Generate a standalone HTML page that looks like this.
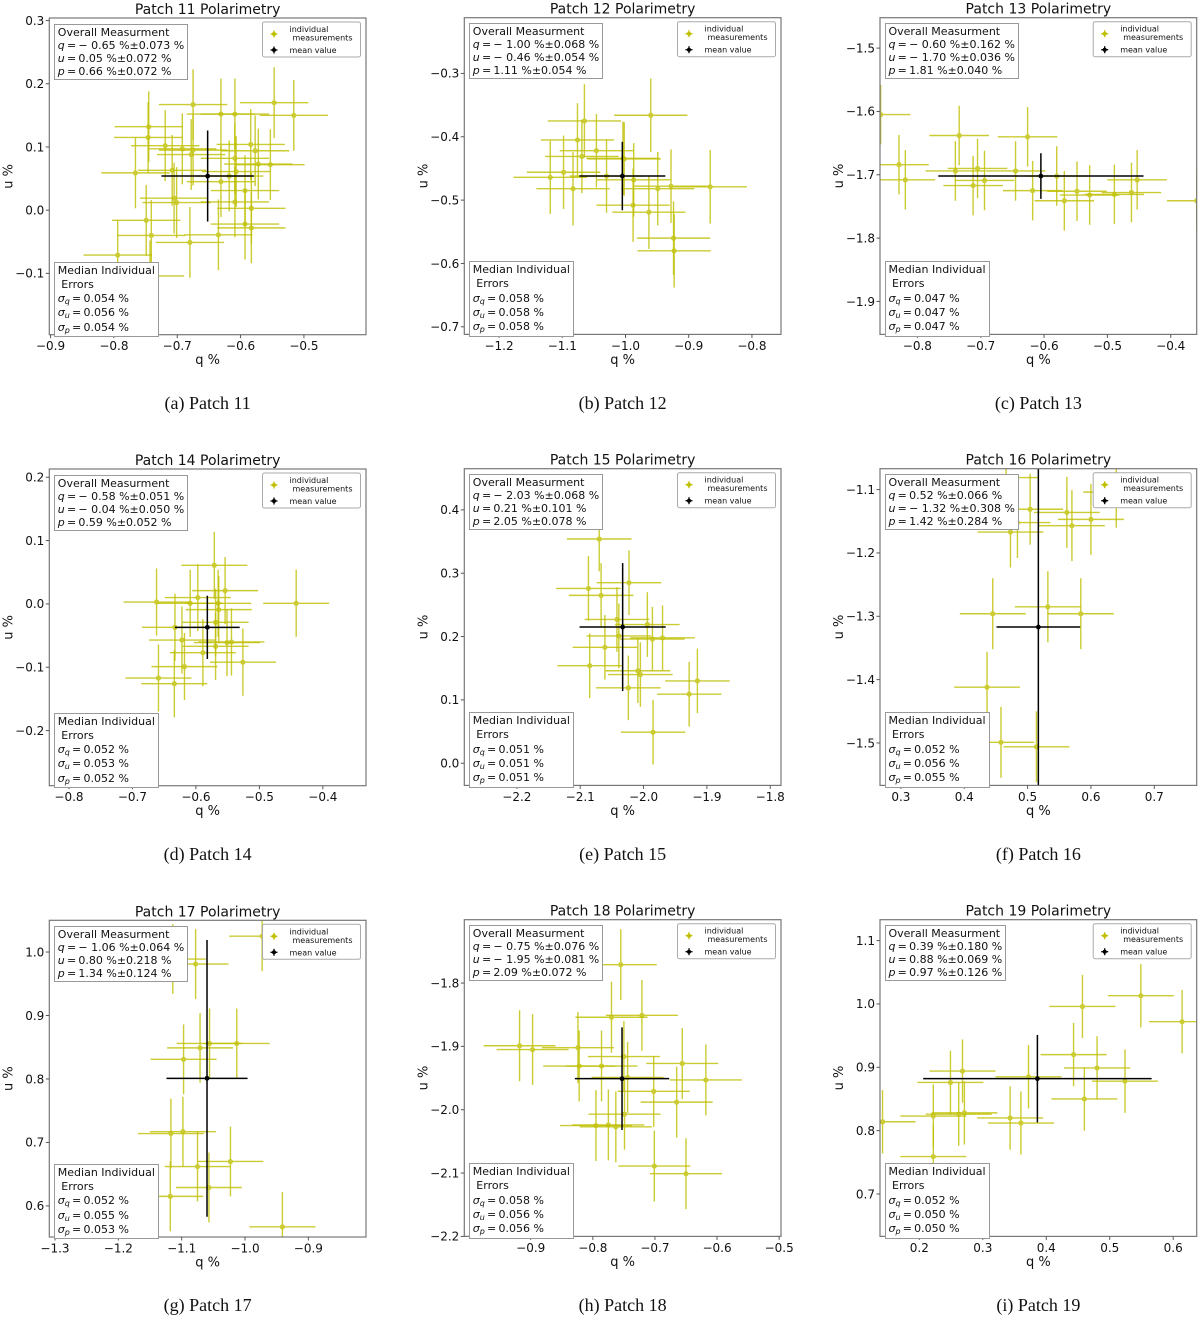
<!DOCTYPE html>
<html><head><meta charset="utf-8">
<style>
html,body{margin:0;padding:0;background:#fff;}
body{width:1200px;height:1320px;position:relative;overflow:hidden;font-family:"DejaVu Sans","Liberation Sans",sans-serif;}
svg{position:absolute;left:0;top:0;font-family:"DejaVu Sans","Liberation Sans",sans-serif;}
.tb{position:absolute;background:#fff;border:1.3px solid #999;padding:1px 3px 1px 3px;font-size:11px;line-height:13px;color:#111;white-space:nowrap;}
.tb sub{font-size:8px;vertical-align:-2px;line-height:0;}
.cap{position:absolute;font-family:"Liberation Serif",serif;font-size:18px;color:#111;width:300px;text-align:center;}
</style></head><body>
<svg id="fig" width="1200" height="1320" viewBox="0 0 1200 1320"></svg>
<script>
const q11=[-0.675,-0.547,-0.516,-0.631,-0.609,-0.745,-0.746,-0.719,-0.692,-0.678,-0.675,-0.584,-0.577,-0.609,-0.572,-0.553,-0.766,-0.708,-0.607,-0.618,-0.631,-0.593,-0.705,-0.701,-0.609,-0.583,-0.749,-0.741,-0.635,-0.680,-0.593,-0.583,-0.794,-0.743];
const u11=[0.167,0.170,0.150,0.152,0.152,0.132,0.115,0.102,0.097,0.088,0.095,0.104,0.094,0.082,0.073,0.072,0.059,0.063,0.061,0.054,0.045,0.031,0.019,0.012,0.013,0.003,-0.016,-0.040,-0.039,-0.051,-0.022,-0.028,-0.071,-0.104];
const q12=[-0.960,-1.065,-1.076,-1.069,-1.046,-1.098,-1.119,-1.083,-1.030,-1.004,-1.002,-0.987,-0.988,-0.963,-0.949,-0.928,-0.866,-0.924,-0.923];
const u12=[-0.366,-0.375,-0.405,-0.431,-0.422,-0.456,-0.464,-0.482,-0.462,-0.434,-0.435,-0.468,-0.508,-0.519,-0.482,-0.478,-0.479,-0.560,-0.580];
const q13=[-0.858,-0.734,-0.626,-0.829,-0.819,-0.740,-0.705,-0.712,-0.694,-0.645,-0.618,-0.580,-0.568,-0.548,-0.528,-0.489,-0.462,-0.453,-0.359];
const u13=[-1.605,-1.638,-1.640,-1.684,-1.708,-1.694,-1.690,-1.717,-1.709,-1.694,-1.725,-1.702,-1.741,-1.726,-1.732,-1.731,-1.728,-1.708,-1.741];
const q14=[-0.571,-0.554,-0.597,-0.662,-0.609,-0.565,-0.564,-0.442,-0.569,-0.633,-0.622,-0.551,-0.544,-0.589,-0.569,-0.618,-0.526,-0.659,-0.634];
const u14=[0.061,0.021,0.010,0.003,0.001,0.001,-0.009,0.001,-0.029,-0.037,-0.057,-0.061,-0.060,-0.077,-0.067,-0.099,-0.092,-0.117,-0.126];
const q15=[-2.070,-2.087,-2.067,-2.023,-2.042,-1.994,-2.039,-1.986,-1.970,-2.061,-2.085,-2.009,-2.005,-2.024,-1.928,-1.915,-1.985];
const u15=[0.354,0.276,0.265,0.285,0.227,0.219,0.201,0.196,0.198,0.183,0.154,0.146,0.140,0.119,0.109,0.130,0.049];
const q16=[0.504,0.484,0.473,0.562,0.570,0.600,0.640,0.466,0.532,0.445,0.584,0.436,0.458,0.514];
const u16=[-1.131,-1.152,-1.167,-1.136,-1.157,-1.147,-1.104,-1.081,-1.285,-1.296,-1.296,-1.412,-1.499,-1.506];
const q17=[-0.973,-1.114,-1.078,-1.056,-1.013,-1.071,-1.097,-1.117,-1.098,-1.075,-1.023,-1.057,-1.118,-0.941];
const u17=[1.025,0.989,0.981,0.856,0.856,0.849,0.831,0.714,0.717,0.662,0.670,0.629,0.615,0.567];
const q18=[-0.755,-0.770,-0.721,-0.918,-0.897,-0.824,-0.822,-0.786,-0.750,-0.744,-0.702,-0.656,-0.618,-0.665,-0.749,-0.795,-0.775,-0.763,-0.701,-0.650];
const u18=[-1.771,-1.854,-1.851,-1.899,-1.905,-1.902,-1.931,-1.931,-1.916,-1.949,-1.971,-1.927,-1.953,-1.988,-2.007,-2.025,-2.024,-2.027,-2.089,-2.101];
const q19=[0.142,0.222,0.222,0.249,0.268,0.262,0.271,0.343,0.360,0.372,0.443,0.457,0.460,0.480,0.524,0.549,0.614];
const u19=[0.814,0.823,0.759,0.876,0.894,0.826,0.828,0.820,0.812,0.885,0.920,0.996,0.850,0.899,0.878,1.013,0.972];
const mean11=[-0.652,0.054,0.073,0.072];
const mean12=[-1.005,-0.462,0.068,0.054];
const mean13=[-0.605,-1.702,0.162,0.036];
const mean14=[-0.582,-0.037,0.051,0.050];
const mean15=[-2.033,0.215,0.068,0.101];
const mean16=[0.517,-1.317,0.066,0.308];
const mean17=[-1.060,0.801,0.064,0.218];
const mean18=[-0.753,-1.951,0.076,0.081];
const mean19=[0.386,0.882,0.180,0.069];
const err11=[0.054,0.056], err12=[0.058,0.058], err13=[0.047,0.047], err14=[0.052,0.053], err15=[0.051,0.051], err16=[0.052,0.056], err17=[0.052,0.055], err18=[0.058,0.056], err19=[0.052,0.050];
const xt11=[-0.9,-0.8,-0.7,-0.6,-0.5], yt11=[-0.1,0.0,0.1,0.2,0.3];
const xt12=[-1.2,-1.1,-1.0,-0.9,-0.8], yt12=[-0.7,-0.6,-0.5,-0.4,-0.3];
const xt13=[-0.8,-0.7,-0.6,-0.5,-0.4], yt13=[-1.9,-1.8,-1.7,-1.6,-1.5];
const xt14=[-0.8,-0.7,-0.6,-0.5,-0.4], yt14=[-0.2,-0.1,0.0,0.1,0.2];
const xt15=[-2.2,-2.1,-2.0,-1.9,-1.8], yt15=[0.0,0.1,0.2,0.3,0.4];
const xt16=[0.3,0.4,0.5,0.6,0.7], yt16=[-1.5,-1.4,-1.3,-1.2,-1.1];
const xt17=[-1.3,-1.2,-1.1,-1.0,-0.9], yt17=[0.6,0.7,0.8,0.9,1.0];
const xt18=[-0.9,-0.8,-0.7,-0.6,-0.5], yt18=[-2.2,-2.1,-2.0,-1.9,-1.8];
const xt19=[0.2,0.3,0.4,0.5,0.6], yt19=[0.7,0.8,0.9,1.0,1.1];
const xlim11=[-0.902,-0.402], ylim11=[-0.197,0.304];
const xlim12=[-1.255,-0.754], ylim12=[-0.712,-0.212];
const xlim13=[-0.859,-0.359], ylim13=[-1.952,-1.452];
const xlim14=[-0.831,-0.332], ylim14=[-0.287,0.213];
const xlim15=[-2.283,-1.783], ylim15=[-0.035,0.465];
const xlim16=[0.267,0.767], ylim16=[-1.567,-1.067];
const xlim17=[-1.309,-0.809], ylim17=[0.551,1.050];
const xlim18=[-1.007,-0.497], ylim18=[-2.200,-1.700];
const xlim19=[0.138,0.637], ylim19=[0.633,1.133];
const overall11=['− 0.65 %±0.073 %','0.05 %±0.072 %','0.66 %±0.072 %'];
const overall12=['− 1.00 %±0.068 %','− 0.46 %±0.054 %','1.11 %±0.054 %'];
const overall13=['− 0.60 %±0.162 %','− 1.70 %±0.036 %','1.81 %±0.040 %'];
const overall14=['− 0.58 %±0.051 %','− 0.04 %±0.050 %','0.59 %±0.052 %'];
const overall15=['− 2.03 %±0.068 %','0.21 %±0.101 %','2.05 %±0.078 %'];
const overall16=['0.52 %±0.066 %','− 1.32 %±0.308 %','1.42 %±0.284 %'];
const overall17=['− 1.06 %±0.064 %','0.80 %±0.218 %','1.34 %±0.124 %'];
const overall18=['− 0.75 %±0.076 %','− 1.95 %±0.081 %','2.09 %±0.072 %'];
const overall19=['0.39 %±0.180 %','0.88 %±0.069 %','0.97 %±0.126 %'];
const median11=['0.054','0.056','0.054'], median12=['0.058','0.058','0.058'], median13=['0.047','0.047','0.047'];
const median14=['0.052','0.053','0.052'], median15=['0.051','0.051','0.051'], median16=['0.052','0.056','0.055'];
const median17=['0.052','0.055','0.053'], median18=['0.058','0.056','0.056'], median19=['0.052','0.050','0.050'];

const panels=[
 {id:'11',L:49.3,T:18,q:q11,u:u11,m:mean11,e:err11,xt:xt11,yt:yt11,xl:xlim11,yl:ylim11,ov:overall11,md:median11,cap:'(a) Patch 11'},
 {id:'12',L:464.3,T:17.7,q:q12,u:u12,m:mean12,e:err12,xt:xt12,yt:yt12,xl:xlim12,yl:ylim12,ov:overall12,md:median12,cap:'(b) Patch 12'},
 {id:'13',L:880,T:17.7,q:q13,u:u13,m:mean13,e:err13,xt:xt13,yt:yt13,xl:xlim13,yl:ylim13,ov:overall13,md:median13,cap:'(c) Patch 13'},
 {id:'14',L:49.3,T:469,q:q14,u:u14,m:mean14,e:err14,xt:xt14,yt:yt14,xl:xlim14,yl:ylim14,ov:overall14,md:median14,cap:'(d) Patch 14'},
 {id:'15',L:464.3,T:468.7,q:q15,u:u15,m:mean15,e:err15,xt:xt15,yt:yt15,xl:xlim15,yl:ylim15,ov:overall15,md:median15,cap:'(e) Patch 15'},
 {id:'16',L:880,T:468.7,q:q16,u:u16,m:mean16,e:err16,xt:xt16,yt:yt16,xl:xlim16,yl:ylim16,ov:overall16,md:median16,cap:'(f) Patch 16'},
 {id:'17',L:49.3,T:920.3,q:q17,u:u17,m:mean17,e:err17,xt:xt17,yt:yt17,xl:xlim17,yl:ylim17,ov:overall17,md:median17,cap:'(g) Patch 17'},
 {id:'18',L:464.3,T:919.7,q:q18,u:u18,m:mean18,e:err18,xt:xt18,yt:yt18,xl:xlim18,yl:ylim18,ov:overall18,md:median18,cap:'(h) Patch 18'},
 {id:'19',L:880,T:919.7,q:q19,u:u19,m:mean19,e:err19,xt:xt19,yt:yt19,xl:xlim19,yl:ylim19,ov:overall19,md:median19,cap:'(i) Patch 19'}
];
const W=316.7,H=316.7,YC='#bfbf00';
const NS='http://www.w3.org/2000/svg';
const svg=document.getElementById('fig');
function mk(tag,attrs,parent){const el=document.createElementNS(NS,tag);for(const k in attrs)el.setAttribute(k,attrs[k]);(parent||svg).appendChild(el);return el;}
function fmt(v){const s=Math.abs(v).toFixed(1);return (v<-1e-9?'\u2212':'')+s;}
panels.forEach((p,i)=>{
  const g=mk('g',{});
  
  
  const X=v=>p.L+(v-p.xl[0])/(p.xl[1]-p.xl[0])*W;
  const Y=v=>p.T+H-(v-p.yl[0])/(p.yl[1]-p.yl[0])*H;
  const cp=mk('clipPath',{id:'c'+p.id},g);
  mk('rect',{x:p.L,y:p.T,width:W,height:H},cp);
  const pts=mk('g',{'clip-path':'url(#c'+p.id+')'},g);
  
  
  p.q.forEach((qv,j)=>{
    const uv=p.u[j];
    const eg=mk('g',{opacity:0.8},pts);
    
    
    mk('line',{x1:X(qv-p.e[0]),x2:X(qv+p.e[0]),y1:Y(uv),y2:Y(uv),stroke:YC,'stroke-width':1.4},eg);
    mk('line',{x1:X(qv),x2:X(qv),y1:Y(uv-p.e[1]),y2:Y(uv+p.e[1]),stroke:YC,'stroke-width':1.4},eg);
    mk('circle',{cx:X(qv),cy:Y(uv),r:2.6,fill:YC},eg);
  });
  const mg=mk('g',{'clip-path':'url(#c'+p.id+')'},g);
  
  
  mk('line',{x1:X(p.m[0]-p.m[2]),x2:X(p.m[0]+p.m[2]),y1:Y(p.m[1]),y2:Y(p.m[1]),stroke:'#000','stroke-width':1.5},mg);
  mk('line',{x1:X(p.m[0]),x2:X(p.m[0]),y1:Y(p.m[1]-p.m[3]),y2:Y(p.m[1]+p.m[3]),stroke:'#000','stroke-width':1.5},mg);
  mk('circle',{cx:X(p.m[0]),cy:Y(p.m[1]),r:2.4,fill:'#000'},mg);
  const fr=mk('rect',{x:p.L,y:p.T,width:W,height:H,fill:'none',stroke:'#777','stroke-width':1.2},g);
  
  
  p.xt.forEach(v=>{
    const x=X(v);
    mk('line',{x1:x,x2:x,y1:p.T+H,y2:p.T+H+3.5,stroke:'#555','stroke-width':1},g);
    const t=mk('text',{x:x,y:p.T+H+15.5,'text-anchor':'middle','font-size':12,fill:'#111'},g);
    t.textContent=fmt(v);
    
    
  });
  p.yt.forEach(v=>{
    const y=Y(v);
    mk('line',{x1:p.L-3.5,x2:p.L,y1:y,y2:y,stroke:'#555','stroke-width':1},g);
    const t=mk('text',{x:p.L-5,y:y+4.3,'text-anchor':'end','font-size':12,fill:'#111'},g);
    t.textContent=fmt(v);
    
    
  });
  const tt=mk('text',{x:p.L+W/2,y:p.T-4,'text-anchor':'middle','font-size':14,fill:'#111'},g);
  tt.textContent='Patch '+p.id+' Polarimetry';
  
  
  const xa=mk('text',{x:p.L+W/2,y:p.T+H+29.5,'text-anchor':'middle','font-size':13,fill:'#111'},g);
  xa.textContent='q %';
  
  
  const ya=mk('text',{x:0,y:0,'text-anchor':'middle','font-size':13,fill:'#111',transform:'translate('+(p.L-37)+','+(p.T+H/2)+') rotate(-90)'},g);
  ya.textContent='u %';
  
  
  const lg=mk('g',{},g);
  
  
  const lx=p.L+W-103.5, ly=p.T+4;
  mk('rect',{x:lx,y:ly,width:98,height:35,rx:2,fill:'#fff',stroke:'#aaa','stroke-width':1},lg);
  const e1=mk('g',{},lg);
  
  
  mk('line',{x1:lx+8,x2:lx+15,y1:ly+12,y2:ly+12,stroke:YC,'stroke-width':1.3},e1);
  mk('line',{x1:lx+11.5,x2:lx+11.5,y1:ly+8.5,y2:ly+15.5,stroke:YC,'stroke-width':1.3},e1);
  mk('circle',{cx:lx+11.5,cy:ly+12,r:2,fill:YC},e1);
  const a1=mk('text',{x:lx+27,y:ly+10,'font-size':8,fill:'#111'},e1);a1.textContent='individual';
  const a2=mk('text',{x:lx+30,y:ly+18.5,'font-size':8,fill:'#111'},e1);a2.textContent='measurements';
  const e2=mk('g',{},lg);
  
  
  mk('line',{x1:lx+8,x2:lx+15,y1:ly+28,y2:ly+28,stroke:'#000','stroke-width':1.3},e2);
  mk('line',{x1:lx+11.5,x2:lx+11.5,y1:ly+24.5,y2:ly+31.5,stroke:'#000','stroke-width':1.3},e2);
  mk('circle',{cx:lx+11.5,cy:ly+28,r:2,fill:'#000'},e2);
  const a3=mk('text',{x:lx+27,y:ly+31,'font-size':8,fill:'#111'},e2);a3.textContent='mean value';
  const ob=document.createElement('div');
  ob.className='tb';
  
  
  ob.style.left=(p.L+4.5)+'px';ob.style.top=(p.T+5.5)+'px';
  ob.innerHTML='Overall Measurment<br><i>q</i>\u2009=\u2009'+p.ov[0]+'<br><i>u</i>\u2009=\u2009'+p.ov[1]+'<br><i>p</i>\u2009=\u2009'+p.ov[2];
  document.body.appendChild(ob);
  const mb=document.createElement('div');
  mb.className='tb';
  
  
  mb.style.left=(p.L+4.5)+'px';mb.style.top=(p.T+243.5)+'px';
  mb.style.lineHeight='14.3px';
  mb.innerHTML='Median Individual<br>&nbsp;Errors<br><i>σ</i><sub><i>q</i></sub>\u2009=\u2009'+p.md[0]+' %<br><i>σ</i><sub><i>u</i></sub>\u2009=\u2009'+p.md[1]+' %<br><i>σ</i><sub><i>p</i></sub>\u2009=\u2009'+p.md[2]+' %';
  document.body.appendChild(mb);
  const cap=document.createElement('div');
  cap.className='cap';
  
  
  cap.style.left=(p.L+W/2-150)+'px';cap.style.top=(p.T+375)+'px';
  cap.textContent=p.cap;
  document.body.appendChild(cap);
});
</script>
</body></html>
